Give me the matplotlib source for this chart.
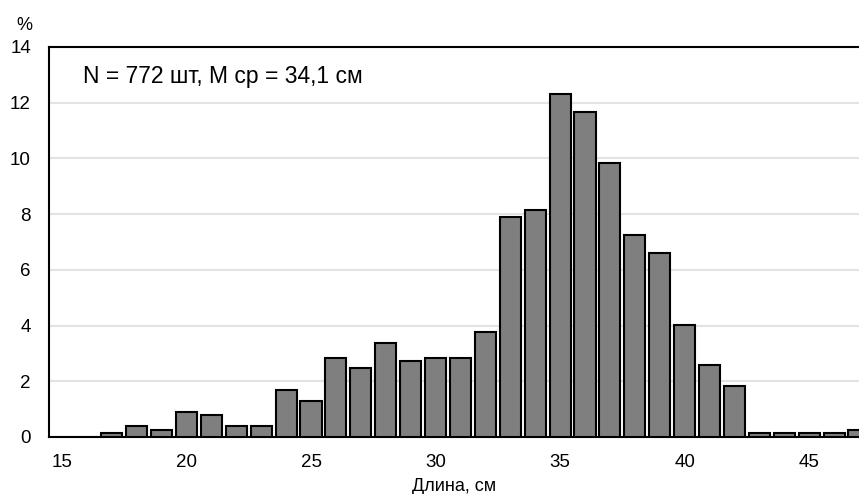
import matplotlib
matplotlib.use("Agg")
import matplotlib.pyplot as plt

plt.rcParams['font.family'] = ['Liberation Sans', 'DejaVu Sans']

# данные
lengths = list(range(17, 48))
counts = [1, 3, 2, 7, 6, 3, 3, 13, 10, 22, 19, 26, 21, 22, 22, 29,
          61, 63, 95, 90, 76, 56, 51, 31, 20, 14, 1, 1, 1, 1, 2]
n_total = 772
mean_len = "34,1"
percent = [c / n_total * 100 for c in counts]

fig = plt.figure(figsize=(8.59, 4.94), dpi=100)
ax = fig.add_axes([0.057, 0.1154, 0.943, 0.7895])

ax.bar(lengths, percent, width=0.85, color="#7f7f7f",
       edgecolor="black", linewidth=1.5, zorder=3)

ax.set_xlim(14.48, 47.0)
ax.set_ylim(0, 14)
ax.set_xticks([15, 20, 25, 30, 35, 40, 45])
ax.set_yticks(range(0, 15, 2))
ax.yaxis.grid(True, color="#e3e3e3", linewidth=1.5, zorder=0)
ax.tick_params(axis="x", length=0, labelsize=13.5, pad=12)
ax.tick_params(axis="y", length=0, labelsize=13.5, pad=13)

ax.spines["right"].set_visible(False)
for side in ["left", "top", "bottom"]:
    ax.spines[side].set_linewidth(1.5)

ax.set_xlabel("Длина, см", fontsize=13)
ax.xaxis.set_label_coords(0.5, -0.105)
fig.text(0.028, 0.949, "%", fontsize=13, ha="center", va="center")
ax.text(0.042, 0.925, f"N = {n_total} шт, M ср = {mean_len} см",
        transform=ax.transAxes, fontsize=16.5, va="center", ha="left")

fig.savefig("out.png", dpi=100)
